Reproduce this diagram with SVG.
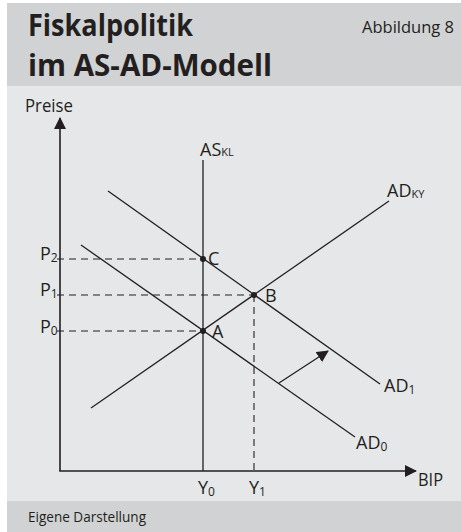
<svg xmlns="http://www.w3.org/2000/svg" width="461" height="532" viewBox="0 0 461 532">
<style>
text{font-family:"Open Sans","Noto Sans","Liberation Sans",sans-serif;fill:#231f20}
.lbl{font-size:18px}
.sub{font-size:12px}
.ssub{font-size:11px}
.ln{stroke:#231f20;stroke-width:1.3;fill:none}
.ax{stroke:#231f20;stroke-width:1.6;fill:none}
.dash{stroke:#231f20;stroke-width:1.1;stroke-dasharray:7 5;fill:none}
</style>
<defs>
<marker id="ah" markerWidth="12" markerHeight="12" refX="11" refY="6" orient="auto" markerUnits="userSpaceOnUse">
<path d="M0,0 L12,6 L0,12 Z" fill="#231f20"/>
</marker>
</defs>
<rect x="0" y="0" width="461" height="532" fill="#ffffff"/>
<rect x="7" y="3" width="454" height="83" fill="#d1d2d4"/>
<rect x="7" y="86" width="454" height="415" fill="#e6e7e9"/>
<rect x="7" y="501" width="454" height="31" fill="#d1d2d4"/>
<g id="title">
<text x="28" y="36" font-size="30" font-weight="bold" textLength="165" lengthAdjust="spacingAndGlyphs">Fiskalpolitik</text>
<text x="28" y="76" font-size="30" font-weight="bold" textLength="244" lengthAdjust="spacingAndGlyphs">im AS-AD-Modell</text>
<text x="362" y="33" font-size="17" textLength="92" lengthAdjust="spacingAndGlyphs">Abbildung 8</text>
</g>
<g id="footer">
<text x="28" y="522" font-size="14" textLength="118" lengthAdjust="spacingAndGlyphs">Eigene Darstellung</text>
</g>
<g id="connectors">
<line class="dash" x1="57" y1="259" x2="203" y2="259"/>
<line class="dash" x1="57" y1="295" x2="254" y2="295"/>
<line class="dash" x1="57" y1="331" x2="203" y2="331"/>
<line class="dash" x1="254" y1="295" x2="254" y2="471"/>
<line class="ax" x1="60" y1="471" x2="60" y2="118" marker-end="url(#ah)"/>
<line class="ax" x1="59.2" y1="471" x2="416" y2="471" marker-end="url(#ah)"/>
<line class="ln" x1="203" y1="160" x2="203" y2="471"/>
<line class="ln" x1="91" y1="408" x2="389" y2="201"/>
<line class="ln" x1="108" y1="191" x2="380" y2="384"/>
<line class="ln" x1="81" y1="245" x2="355" y2="437"/>
<line class="ln" x1="279" y1="383" x2="328" y2="351" marker-end="url(#ah)"/>
</g>
<g id="axis-labels">
<text class="lbl" x="25" y="112" textLength="48" lengthAdjust="spacingAndGlyphs">Preise</text>
<text class="lbl" x="418" y="486" textLength="25" lengthAdjust="spacingAndGlyphs">BIP</text>
</g>
<g id="as-curve">
<text class="lbl" x="200" y="156">AS<tspan class="ssub">KL</tspan></text>
</g>
<g id="ad-ky">
<text class="lbl" x="387" y="197">AD<tspan class="ssub" dy="1">KY</tspan></text>
</g>
<g id="ad1">
<text class="lbl" x="384" y="392">AD<tspan class="sub" dy="2">1</tspan></text>
</g>
<g id="ad0">
<text class="lbl" x="356" y="449">AD<tspan class="sub" dy="2">0</tspan></text>
</g>
<g id="price-labels">
<text class="lbl" x="40" y="260">P<tspan class="sub" dy="2">2</tspan></text>
<text class="lbl" x="40" y="296">P<tspan class="sub" dy="2">1</tspan></text>
<text class="lbl" x="40" y="333">P<tspan class="sub" dy="2">0</tspan></text>
</g>
<g id="output-labels">
<text class="lbl" x="198" y="494">Y<tspan class="sub" dy="2">0</tspan></text>
<text class="lbl" x="249" y="494">Y<tspan class="sub" dy="2">1</tspan></text>
</g>
<g id="point-c">
<circle cx="203" cy="259" r="3" fill="#231f20"/>
<text class="lbl" x="208" y="265">C</text>
</g>
<g id="point-b">
<circle cx="254" cy="295" r="3" fill="#231f20"/>
<text class="lbl" x="265" y="302">B</text>
</g>
<g id="point-a">
<circle cx="203" cy="331" r="3" fill="#231f20"/>
<text class="lbl" x="212" y="338">A</text>
</g>
</svg>
